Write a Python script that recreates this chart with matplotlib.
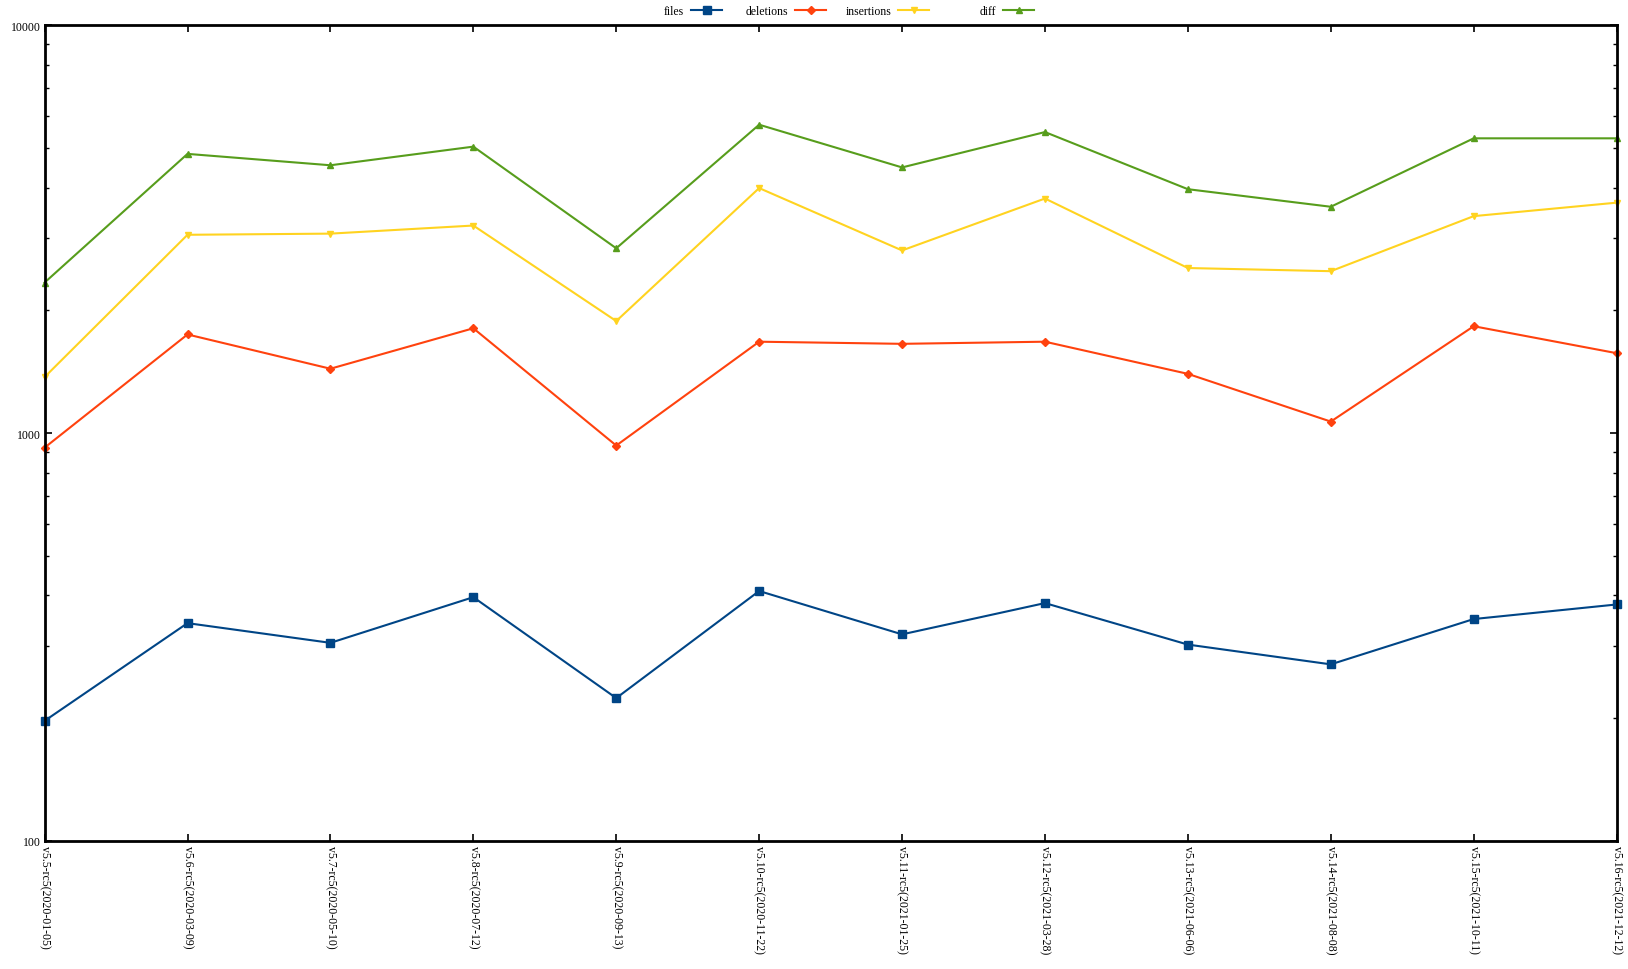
import matplotlib.pyplot as plt
import numpy as np

plt.rcParams['font.family'] = ['Liberation Serif', 'DejaVu Serif']

# release labels on the x axis
releases = ['v5.5-rc5(2020-01-05)', 'v5.6-rc5(2020-03-09)', 'v5.7-rc5(2020-05-10)',
            'v5.8-rc5(2020-07-12)', 'v5.9-rc5(2020-09-13)', 'v5.10-rc5(2020-11-22)',
            'v5.11-rc5(2021-01-25)', 'v5.12-rc5(2021-03-28)', 'v5.13-rc5(2021-06-06)',
            'v5.14-rc5(2021-08-08)', 'v5.15-rc5(2021-10-11)', 'v5.16-rc5(2021-12-12)']

# values (log scale)
files = [197, 342, 306, 396, 224, 410, 321, 383, 303, 271, 350, 380]
deletions = [921, 1745, 1438, 1807, 932, 1675, 1655, 1675, 1397, 1067, 1828, 1570]
insertions = [1372, 3063, 3083, 3227, 1882, 3987, 2804, 3759, 2539, 2494, 3403, 3672]
diff = [2339, 4836, 4535, 5038, 2838, 5702, 4480, 5470, 3962, 3588, 5280, 5280]

fig = plt.figure(figsize=(16.28, 9.70), dpi=100)
ax = fig.add_axes([0.0274, 0.132, 0.9656, 0.841])

x = np.arange(len(releases))
l1, = ax.plot(x, files, color='#004586', marker='s', markersize=6, linewidth=1.5, clip_on=False)
l2, = ax.plot(x, deletions, color='#ff420e', marker='D', markersize=4.5, linewidth=1.5, clip_on=False)
l3, = ax.plot(x, insertions, color='#ffd320', marker='v', markersize=5, linewidth=1.5, clip_on=False)
l4, = ax.plot(x, diff, color='#579d1c', marker='^', markersize=5, linewidth=1.5, clip_on=False)

ax.set_yscale('log')
ax.set_ylim(100, 10000)
ax.set_xlim(0, len(releases) - 1)
ax.set_yticks([100, 1000, 10000])
ax.set_yticklabels(['100', '1000', '10000'])
ax.set_xticks(x)
ax.set_xticklabels(releases, rotation=-90, ha='center', va='top')
ax.tick_params(direction='in', top=True, right=True, labelsize=8.5, width=1.2, length=5, pad=3)
ax.tick_params(which='minor', direction='in', right=True, width=1.0, length=3)
for s in ax.spines.values():
    s.set_linewidth(2)

# key entries: text right-aligned, sample on the right
names = ['files', 'deletions', 'insertions', 'diff']
lines = [l1, l2, l3, l4]
ends = [722, 826, 929, 1034]
for ln, nm, e in zip(lines, names, ends):
    lg = fig.legend([ln], [nm], loc='center right', bbox_to_anchor=(e / 1628, 1 - 12 / 970),
                    markerfirst=False, frameon=False, fontsize=8.5, handlelength=2.6,
                    handletextpad=0.6, borderpad=0, borderaxespad=0)

fig.savefig('out.png', dpi=100)
